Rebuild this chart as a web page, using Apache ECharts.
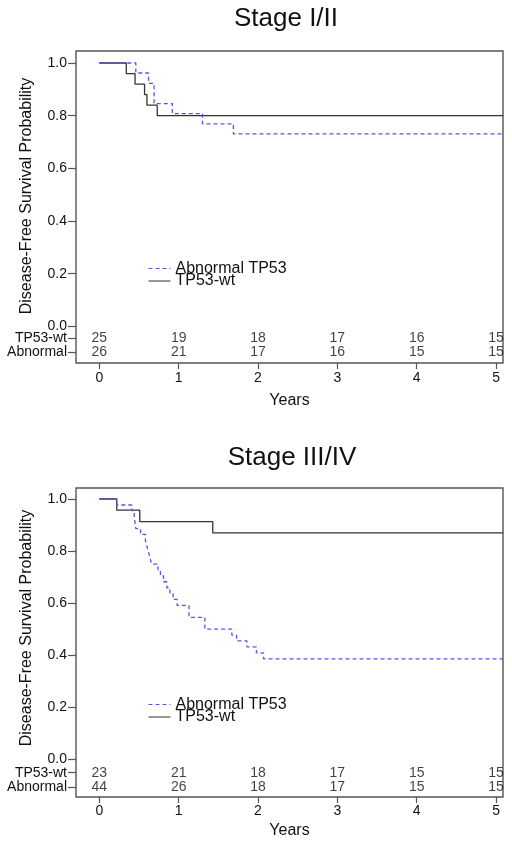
<!DOCTYPE html>
<html>
<head>
<meta charset="utf-8">
<script src="https://cdn.jsdelivr.net/npm/echarts@6/dist/echarts.min.js"></script>
<style>
html,body{margin:0;padding:0;background:#fff;}
#chart{width:512px;height:843px;}
</style>
</head>
<body>
<div id="chart"></div>
<script>
// ---------- data ----------
const panelTitles = ['Stage I/II', 'Stage III/IV'];
const seriesNames = ['Abnormal TP53', 'TP53-wt'];
const xTicks = [0, 1, 2, 3, 4, 5];
const yTicks = [0, 0.2, 0.4, 0.6, 0.8, 1.0];
const riskLabels = ['TP53-wt', 'Abnormal'];
const followUpEnd = 5.09;

// Stage I/II Kaplan-Meier steps (years, survival after event)
const s12WtTimes = [0, 0.34, 0.45, 0.57, 0.60, 0.73, followUpEnd];
const s12WtSurv  = [1.0, 0.96, 0.92, 0.88, 0.84, 0.80, 0.80];
const s12AbnTimes = [0, 0.46, 0.62, 0.69, 0.92, 1.30, 1.69, followUpEnd];
const s12AbnSurv  = [1.0, 0.962, 0.923, 0.846, 0.808, 0.769, 0.731, 0.731];

// Stage III/IV
const s34WtTimes = [0, 0.22, 0.51, 1.43, followUpEnd];
const s34WtSurv  = [1.0, 0.957, 0.913, 0.870, 0.870];
const s34AbnTimes = [0, 0.22, 0.41, 0.44, 0.45, 0.46, 0.52, 0.58, 0.60, 0.62, 0.64, 0.66, 0.74, 0.77, 0.81, 0.85, 0.89, 0.93, 0.98, 1.13, 1.33, 1.67, 1.73, 1.86, 1.98, 2.07, followUpEnd];
const s34AbnSurv  = [1.0, 0.977, 0.955, 0.932, 0.909, 0.886, 0.864, 0.841, 0.818, 0.795, 0.773, 0.750, 0.727, 0.705, 0.682, 0.659, 0.636, 0.614, 0.591, 0.545, 0.500, 0.477, 0.455, 0.432, 0.409, 0.386, 0.386];

// Numbers at risk
const riskTimes = [0, 1, 2, 3, 4, 5];
const s12RiskWt  = [25, 19, 18, 17, 16, 15];
const s12RiskAbn = [26, 21, 17, 16, 15, 15];
const s34RiskWt  = [23, 21, 18, 17, 15, 15];
const s34RiskAbn = [44, 26, 18, 17, 15, 15];

// ---------- layout ----------
const FONT = "'Liberation Sans', Arial, Helvetica, sans-serif";
const BLUE = '#5555ee';
const DARK = '#333333';
const panels = [
  { top: 51, height: 312, yMin: -0.139, yMax: 1.0456, rowWt: -0.0456, rowAbn: -0.0987, titleX: 281, titleTop: 1, nameGap: 30, lblMargin: 8, ylabY: 196, legendTop: 260.5,
    wt: [s12WtTimes, s12WtSurv], abn: [s12AbnTimes, s12AbnSurv], riskWt: s12RiskWt, riskAbn: s12RiskAbn },
  { top: 488, height: 309, yMin: -0.145, yMax: 1.0423, rowWt: -0.0515, rowAbn: -0.1076, titleX: 287, titleTop: 440, nameGap: 26, lblMargin: 7, ylabY: 628, legendTop: 696.5,
    wt: [s34WtTimes, s34WtSurv], abn: [s34AbnTimes, s34AbnSurv], riskWt: s34RiskWt, riskAbn: s34RiskAbn }
];
const X_MIN = -0.294, X_MAX = 5.088;

function km(times, surv) { return times.map((t, i) => [t, surv[i]]); }

const option = {
  animation: false,
  backgroundColor: '#ffffff',
  title: [], grid: [], xAxis: [], yAxis: [], series: [], legend: [], graphic: []
};

panels.forEach((p, k) => {
  option.title.push({
    text: panelTitles[k], left: p.titleX, top: p.titleTop, textAlign: 'center',
    textStyle: { fontFamily: FONT, fontSize: 26, fontWeight: 'normal', color: '#111' }
  });
  option.grid.push({
    left: 76, top: p.top, width: 427, height: p.height,
    show: true, borderColor: '#555', borderWidth: 1.4, backgroundColor: 'transparent'
  });
  option.xAxis.push({
    type: 'value', gridIndex: k, min: X_MIN, max: X_MAX,
    axisLine: { show: false, onZero: false },
    splitLine: { show: false },
    axisTick: { show: true, customValues: xTicks, length: 6, lineStyle: { color: '#555', width: 1.2 } },
    axisLabel: { customValues: xTicks, fontFamily: FONT, fontSize: 14, color: '#111', margin: p.lblMargin },
    name: 'Years', nameLocation: 'middle', nameGap: p.nameGap,
    nameTextStyle: { fontFamily: FONT, fontSize: 16, color: '#111' }
  });
  const yVals = [p.rowAbn, p.rowWt].concat(yTicks);
  option.yAxis.push({
    type: 'value', gridIndex: k, min: p.yMin, max: p.yMax,
    axisLine: { show: false, onZero: false },
    splitLine: { show: false },
    axisTick: { show: true, customValues: yVals, length: 8, lineStyle: { color: '#555', width: 1.2 } },
    axisLabel: {
      customValues: yVals, fontFamily: FONT, fontSize: 14, color: '#111', margin: 9,
      formatter: function (v) {
        if (Math.abs(v - p.rowAbn) < 1e-6) return riskLabels[1];
        if (Math.abs(v - p.rowWt) < 1e-6) return riskLabels[0];
        return Math.abs(v) < 1e-9 ? '0.0' : v.toFixed(1);
      }
    }
  });
  option.series.push({
    name: seriesNames[0], type: 'line', step: 'end', xAxisIndex: k, yAxisIndex: k,
    data: km(p.abn[0], p.abn[1]), symbol: 'none', clip: true, silent: true,
    lineStyle: { color: BLUE, width: 1.3, type: [4, 3] }, itemStyle: { color: BLUE }, z: 3
  });
  option.series.push({
    name: seriesNames[1], type: 'line', step: 'end', xAxisIndex: k, yAxisIndex: k,
    data: km(p.wt[0], p.wt[1]), symbol: 'none', clip: true, silent: true,
    lineStyle: { color: DARK, width: 1.3 }, itemStyle: { color: DARK }, z: 2
  });
  [[p.riskWt, p.rowWt], [p.riskAbn, p.rowAbn]].forEach(([arr, row]) => {
    option.series.push({
      type: 'scatter', xAxisIndex: k, yAxisIndex: k, silent: true,
      symbolSize: 1, itemStyle: { color: 'rgba(0,0,0,0)' },
      data: riskTimes.map((t, i) => [t, row, arr[i]]),
      label: { show: true, position: 'inside', formatter: q => String(q.value[2]),
               fontFamily: FONT, fontSize: 14, color: '#111' }
    });
  });
  option.legend.push({
    data: seriesNames, orient: 'vertical', left: 148, top: p.legendTop,
    padding: 0, itemGap: -3.5, itemWidth: 22, itemHeight: 12, selectedMode: false,
    itemStyle: { opacity: 0 }, lineStyle: { width: 1 },
    textStyle: { fontFamily: FONT, fontSize: 16, color: '#111' }
  });
  option.graphic.push({
    type: 'text', x: 27, y: p.ylabY, rotation: Math.PI / 2, silent: true,
    style: { text: 'Disease-Free Survival Probability', fontFamily: FONT, fontSize: 16,
             fill: '#111', align: 'center', verticalAlign: 'middle' }
  });
});

const chart = echarts.init(document.getElementById('chart'), null, { renderer: 'canvas' });
chart.setOption(option);
</script>
</body>
</html>
